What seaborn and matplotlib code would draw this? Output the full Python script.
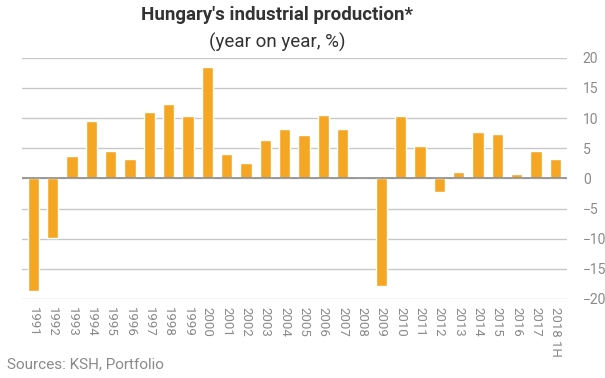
import numpy as np
import pandas as pd
import matplotlib
matplotlib.use("Agg")
import matplotlib.pyplot as plt
import seaborn as sns

# data
years = ["1991", "1992", "1993", "1994", "1995", "1996", "1997", "1998", "1999",
         "2000", "2001", "2002", "2003", "2004", "2005", "2006", "2007", "2008",
         "2009", "2010", "2011", "2012", "2013", "2014", "2015", "2016", "2017",
         "2018 1H"]
growth = [-18.6, -9.9, 3.8, 9.5, 4.5, 3.3, 11.0, 12.4, 10.3,
          18.5, 4.0, 2.5, 6.3, 8.2, 7.2, 10.5, 8.2, 0.0,
          -17.9, 10.3, 5.3, -2.2, 1.0, 7.7, 7.3, 0.8, 4.5,
          3.3]
y_ticks = [-20, -15, -10, -5, 0, 5, 10, 15, 20]

df = pd.DataFrame({"year": years, "growth": growth})

sns.set_style("white")
plt.rcParams["font.family"] = ["Roboto", "DejaVu Sans"]

fig = plt.figure(figsize=(6.05, 3.78), dpi=100)
ax = fig.add_axes([0.036, 0.209, 0.901, 0.638])

sns.barplot(data=df, x="year", y="growth", color="#F5A623", width=0.58,
            saturation=1, ax=ax)

ax.set_ylim(-20, 20)
ax.set_yticks(y_ticks)
ax.yaxis.tick_right()
ax.tick_params(axis="y", length=0, pad=11.5, labelsize=10, labelcolor="#8a8a8a")
ax.tick_params(axis="x", length=0, pad=6, labelsize=9.5, labelcolor="#8a8a8a")
for lbl in ax.get_xticklabels():
    lbl.set_rotation(270)
    lbl.set_va("top")
    lbl.set_ha("center")
ax.set_xlim(-0.6, len(years) - 0.4)
ax.grid(True, axis="y", color="#c8c8c8", linewidth=1)
ax.set_axisbelow(True)
ax.axhline(0, color="#8c8c8c", linewidth=1.2, zorder=3)
for s in ax.spines.values():
    s.set_visible(False)
ax.set_xlabel("")
ax.set_ylabel("")

fig.text(0.458, 0.96, "Hungary's industrial production*", ha="center", va="center",
         fontsize=13.5, fontweight="bold", color="#333333")
fig.text(0.458, 0.889, "(year on year, %)", ha="center", va="center",
         fontsize=13.5, color="#333333")
fig.text(0.012, 0.035, "Sources: KSH, Portfolio", ha="left", va="center",
         fontsize=11, color="#8a8a8a")

fig.savefig("out.png", dpi=100)
